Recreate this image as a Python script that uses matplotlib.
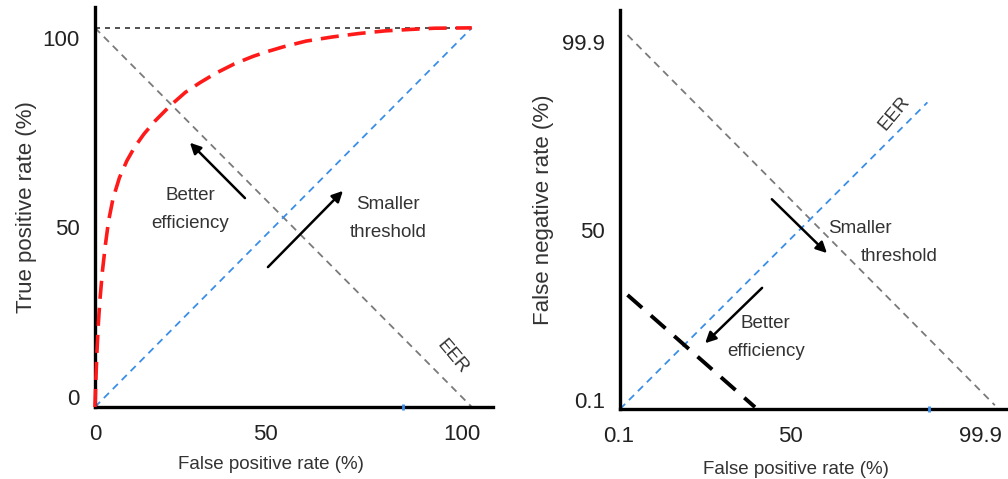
import numpy as np
import matplotlib
matplotlib.use("Agg")
import matplotlib.pyplot as plt
from matplotlib.transforms import ScaledTranslation

plt.rcParams['font.family'] = ['Liberation Sans', 'DejaVu Sans']

# ROC curve (left panel)
roc_fpr = [0, 0.2, 0.5, 0.9, 1.3, 2.0, 2.8, 3.6, 4.8, 6.5, 8.5, 10.5, 13, 16, 20, 24, 27.8,
           32, 37, 42, 45.6, 50, 56, 63, 70, 77, 84, 90, 100]
roc_tpr = [0, 6, 14, 22, 28, 36, 43, 49, 55, 60.5, 65, 68.5, 72, 75.5, 79.5, 83, 85.5,
           88, 90.5, 92.5, 93.7, 95, 96.5, 97.6, 98.5, 99.2, 99.6, 99.9, 100]
diag = [0, 100]
eer = [100, 0]
top = [100, 100]

# DET panel (right), positions in percent of the axis span
det_x = [2, 36]
det_y = [30.5, 0.5]
eer_r_x = [2, 100]
eer_r_y = [100, 1]
blue_r = [0, 82]

left_ticks = [0, 50, 100]
left_labels = ['0', '50', '100']
right_ticks = [0.1, 50, 99.9]
right_labels = ['0.1', '50', '99.9']

RED = '#ff1a1a'
BLUE = '#3a8ee8'
GRAY = '#7a7a7a'
TXT = '#333333'

fig = plt.figure(figsize=(10.08, 4.79), dpi=100)


def style(ax, xlim, ylim):
    ax.set_xlim(*xlim)
    ax.set_ylim(*ylim)
    for s in ['top', 'right']:
        ax.spines[s].set_visible(False)
    for s in ['left', 'bottom']:
        ax.spines[s].set_linewidth(2.4)
        ax.spines[s].set_color('black')
        ax.spines[s].set_zorder(5)
    ax.tick_params(length=0, labelsize=16, colors='#222222')
    ax.tick_params(axis='x', pad=12)
    ax.tick_params(axis='y', pad=11)


def nudge(labels, shifts, axis):
    # the original labels sit a little off their ticks
    for lab, d in zip(labels, shifts):
        if axis == 'x':
            off = ScaledTranslation(d / 100, 0, fig.dpi_scale_trans)
        else:
            off = ScaledTranslation(0, -d / 100, fig.dpi_scale_trans)
        lab.set_transform(lab.get_transform() + off)


def arrow(ax, tail, head):
    ax.annotate('', xy=head, xytext=tail,
                arrowprops=dict(arrowstyle='-|>', color='black', lw=1.8,
                                mutation_scale=16, shrinkA=0, shrinkB=0))


# ---- left: ROC ----
ax1 = fig.add_axes([0.0942, 0.1503, 0.3948, 0.8351])
style(ax1, (0, 105.6), (0, 105.5))
ax1.plot(diag, top, color='#333333', lw=1.2, ls=(0, (3, 3)))
ax1.plot(diag, eer, color=GRAY, lw=1.3, ls=(0, (4, 3)))
ax1.plot(diag, diag, color=BLUE, lw=1.3, ls=(0, (4, 3)))
ax1.plot(roc_fpr, roc_tpr, color=RED, lw=2.6, ls=(0, (5, 2.5)), zorder=6, clip_on=False)
ax1.plot([81.7], [0], marker='|', color=BLUE, ms=4, mew=2, zorder=6, clip_on=False)
ax1.set_xticks(left_ticks, left_labels)
ax1.set_yticks(left_ticks, left_labels)
nudge(ax1.get_xticklabels(), [0, -18, -10], 'x')
nudge(ax1.get_yticklabels(), [-10, 10, 10], 'y')
ax1.set_xlabel('False positive rate (%)', fontsize=13.5, color=TXT, labelpad=8)
ax1.xaxis.label.set_x(0.442)
ax1.set_ylabel('True positive rate (%)', fontsize=16, color=TXT, labelpad=4)

arrow(ax1, (39.8, 55.1), (25.2, 69.7))
arrow(ax1, (45.9, 36.9), (65.8, 57.0))
ax1.text(25.2, 55.9, 'Better', fontsize=13.5, color=TXT, ha='center', va='center')
ax1.text(25.2, 48.5, 'efficiency', fontsize=13.5, color=TXT, ha='center', va='center')
ax1.text(77.7, 53.3, 'Smaller', fontsize=13.5, color=TXT, ha='center', va='center')
ax1.text(77.7, 45.9, 'threshold', fontsize=13.5, color=TXT, ha='center', va='center')
ax1.text(94.7, 13.2, 'EER', fontsize=13.5, color=TXT, ha='center', va='center', rotation=-50)

# ---- right: DET ----
ax2 = fig.add_axes([0.6151, 0.1461, 0.3849, 0.833])
style(ax2, (0, 103.5), (0, 106.7))
ax2.plot(eer_r_x, eer_r_y, color=GRAY, lw=1.3, ls=(0, (4, 3)))
ax2.plot(blue_r, blue_r, color=BLUE, lw=1.3, ls=(0, (4, 3)))
ax2.plot(det_x, det_y, color='black', lw=2.8, ls=(0, (5, 3)), zorder=4)
ax2.plot([82.4], [0], marker='|', color=BLUE, ms=4, mew=2, zorder=6, clip_on=False)
ax2.set_xticks(right_ticks, right_labels)
ax2.set_yticks(right_ticks, right_labels)
nudge(ax2.get_xticklabels(), [-2, -17, -14], 'x')
nudge(ax2.get_yticklabels(), [-9, 8, 7], 'y')
ax2.set_xlabel('False positive rate (%)', fontsize=13.5, color=TXT, labelpad=10)
ax2.xaxis.label.set_x(0.454)
ax2.set_ylabel('False negative rate (%)', fontsize=16, color=TXT, labelpad=6)

arrow(ax2, (40.5, 56.1), (55.2, 41.7))
arrow(ax2, (37.9, 32.4), (22.7, 17.6))
ax2.text(64, 48.4, 'Smaller', fontsize=13.5, color=TXT, ha='center', va='center')
ax2.text(74.4, 40.9, 'threshold', fontsize=13.5, color=TXT, ha='center', va='center')
ax2.text(38.9, 23.0, 'Better', fontsize=13.5, color=TXT, ha='center', va='center')
ax2.text(38.9, 15.5, 'efficiency', fontsize=13.5, color=TXT, ha='center', va='center')
ax2.text(73.3, 79.1, 'EER', fontsize=13.5, color=TXT, ha='center', va='center', rotation=50)

fig.savefig('out.png', dpi=100)
